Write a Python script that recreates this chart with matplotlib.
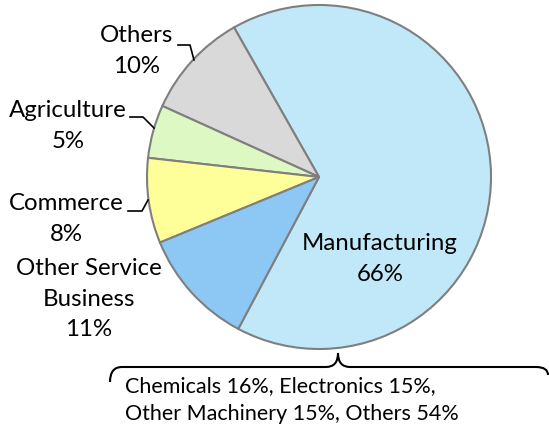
import matplotlib
matplotlib.use("Agg")
import matplotlib.pyplot as plt
from matplotlib.path import Path
from matplotlib.patches import PathPatch

categories = ["Manufacturing", "Others", "Agriculture", "Commerce", "Other Service\nBusiness"]
shares = [66, 10, 5, 8, 11]
colors = ["#C0E8F9", "#D9D9D9", "#DDF8C2", "#FFFF99", "#8DC8F5"]
sub_note = "Chemicals 16%, Electronics 15%,\nOther Machinery 15%, Others 54%"

plt.rcParams['font.family'] = ['Lato', 'DejaVu Sans']

W, H = 549, 428
fig = plt.figure(figsize=(W / 100, H / 100), dpi=100)
ax = fig.add_axes([0, 0, 1, 1])

def Y(y):
    return H - y

cx, cy, r = 319, 177, 172
ax.pie(shares, colors=colors, startangle=-118, counterclock=True,
       center=(cx, Y(cy)), radius=r, frame=True,
       wedgeprops=dict(edgecolor="#7F7F7F", linewidth=1.5))
ax.set_xlim(0, W)
ax.set_ylim(0, H)
ax.set_aspect('equal')
ax.axis('off')

fs = 17.3
ls = 1.55
lab = [f"{c}\n{v}%" for c, v in zip(categories, shares)]
ax.text(380, Y(259), lab[0], ha='center', va='center', fontsize=fs, linespacing=ls)
ax.text(137, Y(51), lab[1], ha='center', va='center', fontsize=fs, linespacing=ls)
ax.text(68, Y(126), lab[2], ha='center', va='center', fontsize=fs, linespacing=ls)
ax.text(66, Y(219), lab[3], ha='center', va='center', fontsize=fs, linespacing=ls)
ax.text(89, Y(299), lab[4], ha='center', va='center', fontsize=fs, linespacing=ls)

lc = dict(color='black', linewidth=1.2)
ax.plot([178, 190, 194], [Y(45), Y(45), Y(60)], **lc)
ax.plot([130, 143, 154], [Y(117), Y(117), Y(128)], **lc)
ax.plot([128, 142, 148], [Y(211), Y(211), Y(200)], **lc)

# curly brace
by, tipx, tipy = 367, 338, 353
verts = [(110, Y(382)), (110, Y(by)), (122, Y(by)),
         (tipx - 12, Y(by)),
         (tipx, Y(by)), (tipx, Y(tipy)),
         (tipx, Y(by)), (tipx + 12, Y(by)),
         (536, Y(by)),
         (548, Y(by)), (548, Y(375))]
codes = [Path.MOVETO, Path.CURVE3, Path.CURVE3,
         Path.LINETO,
         Path.CURVE3, Path.CURVE3,
         Path.CURVE3, Path.CURVE3,
         Path.LINETO,
         Path.CURVE3, Path.CURVE3]
ax.add_patch(PathPatch(Path(verts, codes), fill=False, edgecolor='black', linewidth=1.5))

ax.text(125, Y(400), sub_note, ha='left', va='center', fontsize=15.5, linespacing=1.5)

fig.savefig("out.png", dpi=100)
